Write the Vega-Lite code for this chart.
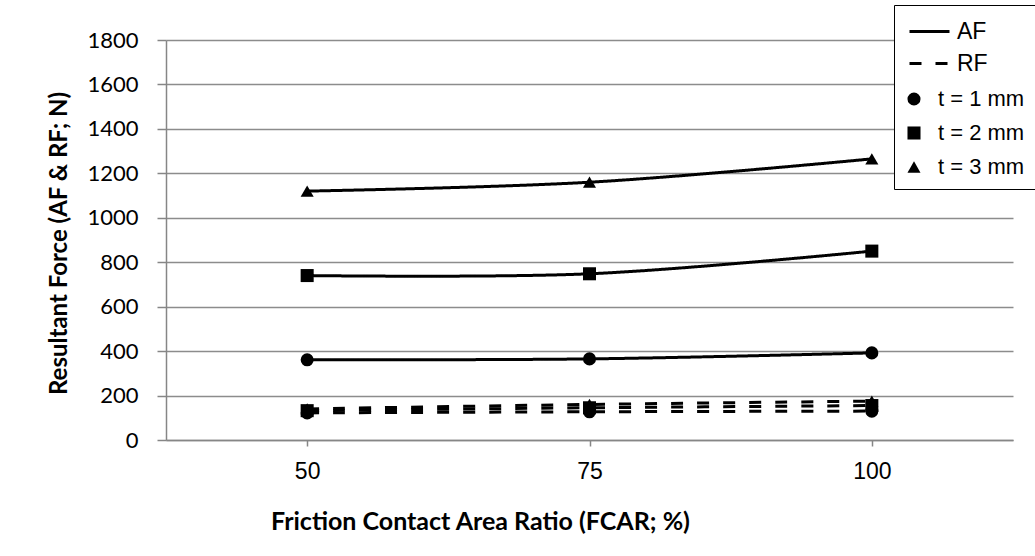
{
  "$schema": "https://vega.github.io/schema/vega-lite/v6.json",
  "width": 847,
  "height": 400,
  "autosize": {"type": "none"},
  "padding": {"left": 166, "top": 40, "right": 22, "bottom": 116},
  "background": "white",
  "config": {"view": {"stroke": null}},
  "data": {
    "values": [
      {"fcar": "50", "force": "AF", "t": "t = 1 mm", "value": 361},
      {"fcar": "75", "force": "AF", "t": "t = 1 mm", "value": 365},
      {"fcar": "100", "force": "AF", "t": "t = 1 mm", "value": 392},
      {"fcar": "50", "force": "AF", "t": "t = 2 mm", "value": 740},
      {"fcar": "75", "force": "AF", "t": "t = 2 mm", "value": 748},
      {"fcar": "100", "force": "AF", "t": "t = 2 mm", "value": 850},
      {"fcar": "50", "force": "AF", "t": "t = 3 mm", "value": 1120},
      {"fcar": "75", "force": "AF", "t": "t = 3 mm", "value": 1160},
      {"fcar": "100", "force": "AF", "t": "t = 3 mm", "value": 1265},
      {"fcar": "50", "force": "RF", "t": "t = 1 mm", "value": 122},
      {"fcar": "75", "force": "RF", "t": "t = 1 mm", "value": 127},
      {"fcar": "100", "force": "RF", "t": "t = 1 mm", "value": 130},
      {"fcar": "50", "force": "RF", "t": "t = 2 mm", "value": 132},
      {"fcar": "75", "force": "RF", "t": "t = 2 mm", "value": 145},
      {"fcar": "100", "force": "RF", "t": "t = 2 mm", "value": 155},
      {"fcar": "50", "force": "RF", "t": "t = 3 mm", "value": 140},
      {"fcar": "75", "force": "RF", "t": "t = 3 mm", "value": 160},
      {"fcar": "100", "force": "RF", "t": "t = 3 mm", "value": 175}
    ]
  },
  "encoding": {
    "x": {
      "field": "fcar",
      "type": "ordinal",
      "sort": ["50", "75", "100"],
      "scale": {"type": "point", "padding": 0.5},
      "axis": {
        "title": "Friction Contact Area Ratio (FCAR; %)",
        "titleFont": "Lato",
        "titleFontWeight": "bold",
        "titleFontSize": 25,
        "titleColor": "black",
        "titleX": 314,
        "titleY": 81,
        "titleBaseline": "middle",
        "titleAlign": "center",
        "labelAngle": 0,
        "labelFont": "Liberation Sans",
        "labelFontSize": 23,
        "labelColor": "black",
        "labelPadding": 14,
        "tickSize": 6,
        "tickColor": "#868686",
        "tickWidth": 1.5,
        "domainColor": "#868686",
        "domainWidth": 1.5,
        "grid": false
      }
    },
    "y": {
      "field": "value",
      "type": "quantitative",
      "scale": {"domain": [0, 1800]},
      "axis": {
        "title": "Resultant Force (AF & RF; N)",
        "titleFont": "Lato",
        "titleFontWeight": "bold",
        "titleFontSize": 24,
        "titleColor": "black",
        "titleX": -107,
        "titleY": 203,
        "titleAngle": -90,
        "titleAlign": "center",
        "titleBaseline": "middle",
        "values": [0, 200, 400, 600, 800, 1000, 1200, 1400, 1600, 1800],
        "format": "d",
        "labelFont": "Lato",
        "labelFontSize": 22,
        "labelColor": "black",
        "labelPadding": 19,
        "tickSize": 9,
        "tickColor": "#868686",
        "tickWidth": 1.5,
        "domainColor": "#868686",
        "domainWidth": 1.5,
        "grid": true,
        "gridColor": "#8c8c8c",
        "gridWidth": 1.5
      }
    }
  },
  "layer": [
    {
      "mark": {"type": "line", "interpolate": "catmull-rom", "color": "black", "strokeWidth": 3},
      "encoding": {
        "detail": {"field": "t", "type": "nominal"},
        "strokeDash": {
          "field": "force",
          "type": "nominal",
          "scale": {"domain": ["AF", "RF"], "range": [[1, 0], [12, 14]]},
          "legend": {
            "orient": "none",
            "legendX": 752,
            "legendY": -20,
            "title": null,
            "padding": 0,
            "symbolType": "M-4,0H4",
            "symbolSize": 100,
            "symbolStrokeWidth": 3,
            "symbolStrokeColor": "black",
            "labelFont": "Liberation Sans",
            "labelFontSize": 23,
            "labelColor": "black",
            "labelOffset": 16,
            "rowPadding": 8,
            "zindex": 2
          }
        }
      }
    },
    {
      "mark": {"type": "point", "filled": true, "color": "black", "size": 170, "opacity": 1},
      "encoding": {
        "shape": {
          "field": "t",
          "type": "nominal",
          "scale": {"domain": ["t = 1 mm", "t = 2 mm", "t = 3 mm"], "range": ["circle", "square", "triangle-up"]},
          "legend": {
            "orient": "none",
            "legendX": 728,
            "legendY": -35,
            "title": " ",
            "titleFontSize": 1,
            "titlePadding": 71,
            "padding": 11,
            "strokeColor": "black",
            "fillColor": "white",
            "symbolSize": 170,
            "symbolOffset": -2,
            "symbolFillColor": "black",
            "symbolStrokeColor": "black",
            "symbolOpacity": 1,
            "labelFont": "Liberation Sans",
            "labelFontSize": 22,
            "labelColor": "black",
            "labelOffset": 13,
            "rowPadding": 12,
            "zindex": 1
          }
        }
      }
    }
  ]
}
